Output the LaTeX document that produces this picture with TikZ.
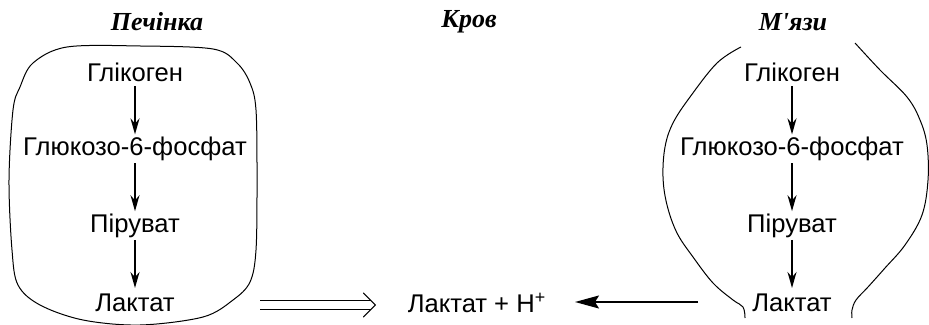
\documentclass[tikz,border=0pt]{standalone}
\usepackage{fontspec}
\setmainfont{Liberation Sans}
\newfontfamily\titlefont{Liberation Serif}
\usepackage{tikz}
\usetikzlibrary{arrows.meta,positioning}

\begin{document}
\begin{tikzpicture}[
  x=0.5pt,y=-0.5pt,
  node distance=24pt,
  organ/.style={font=\titlefont\bfseries\itshape\fontsize{13}{15}\selectfont,inner sep=0pt},
  metab/.style={font=\fontsize{12.8}{15}\selectfont,inner sep=0pt,minimum height=14pt},
  arrow/.style={-{Stealth[length=8pt,width=4.5pt]},line width=0.9pt},
  back/.style={-{Stealth[length=12pt,width=6.5pt,inset=2pt]},line width=0.8pt},
  transfer/.style={double,double distance=4pt,line width=0.5pt,shorten >=2.6pt},
  chevron/.style={draw=white,line width=0.5pt,
    -{Straight Barb[color=black,length=6pt,width=12pt,line width=0.55pt,round]}},
  wall/.style={line width=0.5pt}
]
\useasboundingbox (0,0) rectangle (929,325);

% titles
\node[organ] (tliver) at (157,22) {Печінка};
\node[organ] (tblood) at (469,22) {Кров};
\node[organ] (tmuscle) at (793,22) {М'язи};

% liver
\node[metab] (lgly) at (135,72) {Глікоген};
\node[metab,below=of lgly] (lg6p) {Глюкозо-6-фосфат};
\node[metab,below=of lg6p] (lpyr) {Піруват};
\node[metab,below=of lpyr] (llac) {Лактат};
\draw[arrow] (lgly) -- (lg6p);
\draw[arrow] (lg6p) -- (lpyr);
\draw[arrow] (lpyr) -- (llac);

% muscle
\node[metab] (mgly) at (792,72) {Глікоген};
\node[metab,below=of mgly] (mg6p) {Глюкозо-6-фосфат};
\node[metab,below=of mg6p] (mpyr) {Піруват};
\node[metab,below=of mpyr] (mlac) {Лактат};
\draw[arrow] (mgly) -- (mg6p);
\draw[arrow] (mg6p) -- (mpyr);
\draw[arrow] (mpyr) -- (mlac);

% blood
\node[metab] (blood) at (477,303) {Лактат + H\textsuperscript{+}};
\coordinate (tstart) at (260,305);
\coordinate (tend) at (376,305);
\coordinate (bstart) at (698,302);
\coordinate (bend) at (575,302);
\draw[transfer] (tstart) -- (tend);
\draw[chevron] (tstart) -- (tend);
\draw[back] (bstart) -- (bend);

% liver wall
\draw[wall] plot[smooth cycle,tension=0.55] coordinates {
  (67,47) (140,46) (213,49) (237,63) (250,83) (256,110) (257,180)
  (256,250) (250,282) (233,300) (203,317) (140,325) (83,320)
  (40,305) (18,285) (12,250) (9,180) (13,110) (20,87) (33,63)};

% muscle wall
\draw[wall] plot[smooth,tension=0.6] coordinates {
  (741,47) (717,63) (690,97) (673,123) (665,147) (663,177) (667,205)
  (677,233) (693,257) (713,283) (733,300) (743,307) (745,318)};
\draw[wall] plot[smooth,tension=0.6] coordinates {
  (855,43) (880,70) (907,97) (920,120) (927,145) (928,180) (922,215)
  (905,245) (885,268) (868,287) (856,300) (852,310) (852,318)};
\end{tikzpicture}
\end{document}
